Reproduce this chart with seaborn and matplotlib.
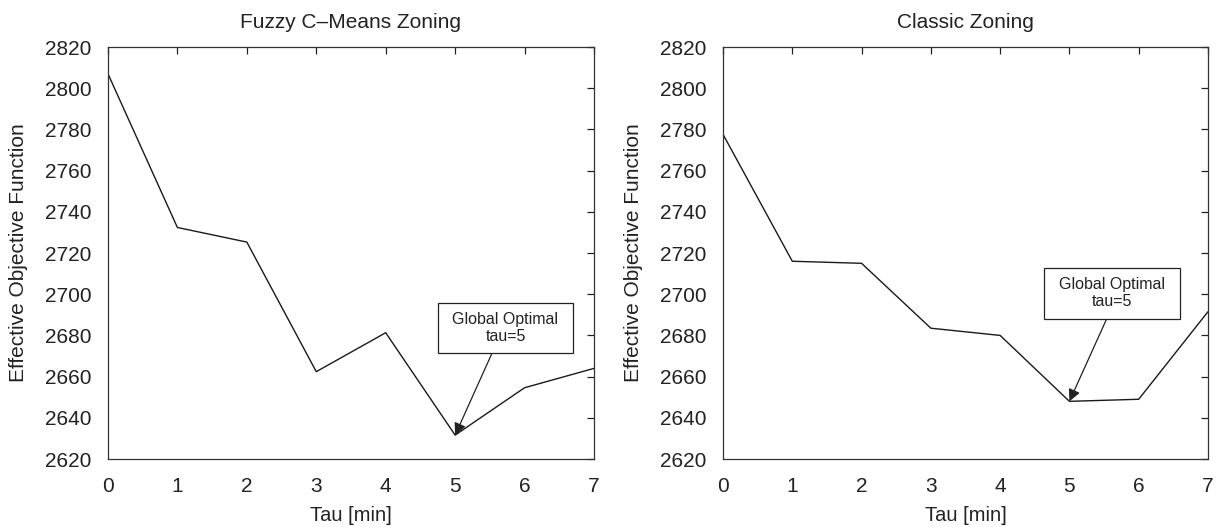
import matplotlib
matplotlib.use("Agg")
import matplotlib.pyplot as plt
from matplotlib.patches import Rectangle
import seaborn as sns
import pandas as pd

tau = [0, 1, 2, 3, 4, 5, 6, 7]
fuzzy_values = [2807, 2732.4, 2725.3, 2662.4, 2681.3, 2631.6, 2654.6, 2664.0]
classic_values = [2777.6, 2716.0, 2715.0, 2683.5, 2680.0, 2648.0, 2649.0, 2691.5]
titles = ["Fuzzy C\u2013Means Zoning", "Classic Zoning"]
y_ticks = [2620, 2640, 2660, 2680, 2700, 2720, 2740, 2760, 2780, 2800, 2820]
annot_text = "Global Optimal\ntau=5"
annot_xy = [(5, 2631.6), (5, 2648.0)]

sns.set_theme(style="white")
plt.rcParams["font.family"] = ["Liberation Sans", "DejaVu Sans"]

fig = plt.figure(figsize=(12.24, 5.27), dpi=100)
ax_pos = [[0.0882, 0.129, 0.3971, 0.7818], [0.5907, 0.129, 0.3962, 0.7818]]
# annotation box extents (data coords): x0, x1, y0, y1
boxes = [(4.749, 6.70, 2671.3, 2695.6), (4.633, 6.591, 2688.2, 2712.7)]
arrow_start_x = [5.53, 5.54]

for i, vals in enumerate([fuzzy_values, classic_values]):
    ax = fig.add_axes(ax_pos[i])
    df = pd.DataFrame({"tau": tau, "val": vals})
    sns.lineplot(data=df, x="tau", y="val", ax=ax, color="#1a1a1a", linewidth=1.0)
    ax.set_xlim(0, 7)
    ax.set_ylim(2620, 2820)
    ax.set_xticks(tau)
    ax.set_yticks(y_ticks)
    ax.tick_params(direction="in", length=5, width=0.9, top=True, right=True,
                   labelsize=15, colors="#222222")
    ax.tick_params(axis="x", pad=13)
    ax.tick_params(axis="y", pad=12)
    for s in ax.spines.values():
        s.set_visible(True)
        s.set_color("#333333")
        s.set_linewidth(0.9)
    ax.set_xlabel("Tau [min]", fontsize=14.5, color="#222222", labelpad=7)
    ax.set_ylabel("Effective Objective Function", fontsize=15, color="#222222", labelpad=12)
    ax.set_title(titles[i], fontsize=15, color="#222222", pad=14)

    x0, x1, y0, y1 = boxes[i]
    ax.add_patch(Rectangle((x0, y0), x1 - x0, y1 - y0, fc="white", ec="#222222",
                           lw=0.9, zorder=4))
    ax.text((x0 + x1) / 2, (y0 + y1) / 2, annot_text, ha="center", va="center",
            fontsize=11.5, color="#222222", linespacing=1.15, zorder=5)
    ax.annotate("", xy=annot_xy[i], xytext=(arrow_start_x[i], y0),
                arrowprops=dict(arrowstyle="-|>", color="#222222", lw=0.9,
                                mutation_scale=18, shrinkA=0, shrinkB=0))

fig.savefig("out.png", dpi=100)
